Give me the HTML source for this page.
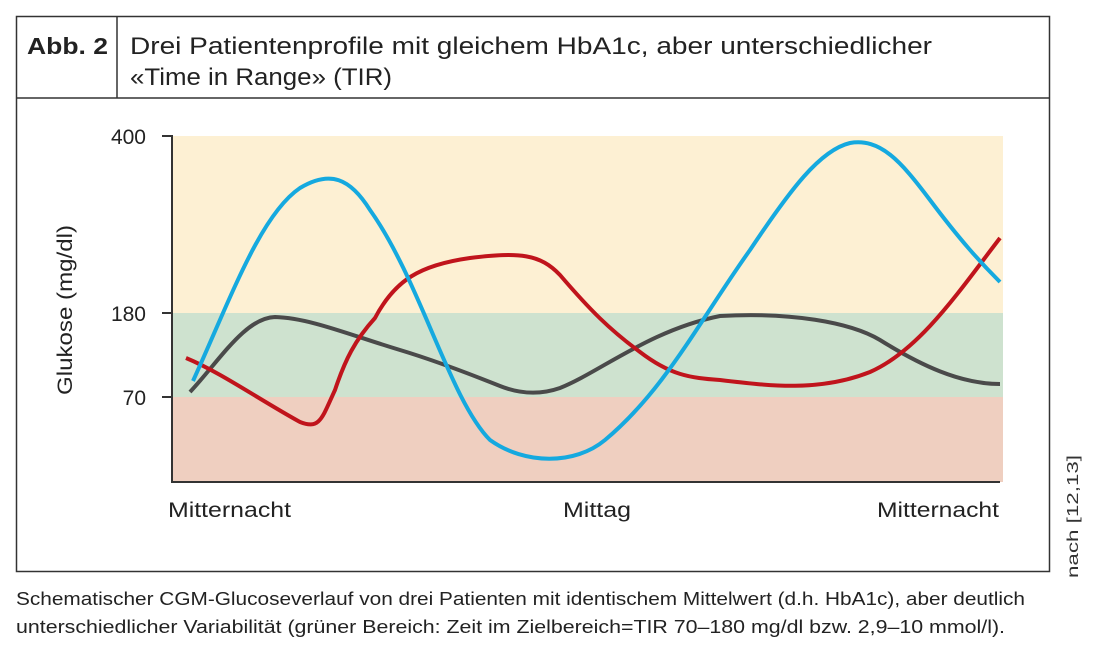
<!DOCTYPE html>
<html><head><meta charset="utf-8"><style>
body{margin:0;background:#fff;width:1100px;height:660px;overflow:hidden;font-family:"Liberation Sans",sans-serif}
</style></head><body>
<svg width="1100" height="660" xmlns="http://www.w3.org/2000/svg" font-family="Liberation Sans, sans-serif">
<rect x="16.5" y="16.5" width="1033" height="555" fill="none" stroke="#333" stroke-width="1.5"/>
<line x1="16" y1="98" x2="1050" y2="98" stroke="#333" stroke-width="1.5"/>
<line x1="117" y1="16" x2="117" y2="98" stroke="#333" stroke-width="1.5"/>
<text x="27" y="54" font-size="23" font-weight="bold" fill="#222" textLength="81" lengthAdjust="spacingAndGlyphs">Abb. 2</text>
<text x="130" y="54" font-size="24" fill="#222" textLength="802" lengthAdjust="spacingAndGlyphs">Drei Patientenprofile mit gleichem HbA1c, aber unterschiedlicher</text>
<text x="130" y="85" font-size="24" fill="#222" textLength="262" lengthAdjust="spacingAndGlyphs">«Time in Range» (TIR)</text>
<rect x="172" y="136" width="831" height="177" fill="#fdf0d3"/>
<rect x="172" y="313" width="831" height="84" fill="#cee2cf"/>
<rect x="172" y="397" width="831" height="85" fill="#efcfc0"/>
<path d="M162 136H172V482H1000" fill="none" stroke="#333" stroke-width="2"/>
<line x1="162" y1="313" x2="172" y2="313" stroke="#333" stroke-width="2"/>
<line x1="162" y1="397" x2="172" y2="397" stroke="#333" stroke-width="2"/>
<g font-size="21" fill="#222" text-anchor="end">
<text x="146" y="144">400</text><text x="146" y="321">180</text><text x="146" y="405">70</text></g>
<text transform="translate(72,310) rotate(-90)" font-size="21" fill="#222" text-anchor="middle" textLength="170" lengthAdjust="spacingAndGlyphs">Glukose (mg/dl)</text>
<g font-size="21" fill="#222">
<text x="168" y="517" textLength="123" lengthAdjust="spacingAndGlyphs">Mitternacht</text><text x="563" y="517" textLength="68" lengthAdjust="spacingAndGlyphs">Mittag</text><text x="877" y="517" textLength="122" lengthAdjust="spacingAndGlyphs">Mitternacht</text></g>
<path d="M190 392 C220 360,245 318,275 317 C310 318,350 335,400 350 C440 362,480 378,500 386 C520 394,540 395,560 388 C600 372,650 330,720 316 C790 312,850 322,880 340 C920 365,960 384,1000 384" fill="none" stroke="#4a4a4a" stroke-width="4"/>
<path d="M186 358 C220 372,260 400,300 422 C320 430,322 418,335 390 C345 360,355 340,375 318 C395 280,420 265,470 258 C520 252,540 254,560 275 C590 310,610 330,640 352 C670 375,690 378,720 380 C770 386,820 392,870 372 C920 350,960 290,1000 238" fill="none" stroke="#c0141c" stroke-width="4"/>
<path d="M193 381 C230 300,260 215,300 188 C330 170,350 178,370 210 C420 280,450 400,490 440 C525 465,575 465,605 440 C665 390,700 320,750 250 C790 190,820 150,850 143 C880 138,900 160,930 200 C960 240,980 262,1000 282" fill="none" stroke="#15a9df" stroke-width="4"/>
<text transform="translate(1078,578) rotate(-90)" font-size="16" fill="#333" textLength="123" lengthAdjust="spacingAndGlyphs">nach [12,13]</text>
<text x="16" y="605" font-size="18" fill="#222" textLength="1009" lengthAdjust="spacingAndGlyphs">Schematischer CGM-Glucoseverlauf von drei Patienten mit identischem Mittelwert (d.h. HbA1c), aber deutlich</text>
<text x="16" y="633" font-size="18" fill="#222" textLength="989" lengthAdjust="spacingAndGlyphs">unterschiedlicher Variabilität (grüner Bereich: Zeit im Zielbereich=TIR 70–180 mg/dl bzw. 2,9–10 mmol/l).</text>
</svg>
</body></html>
